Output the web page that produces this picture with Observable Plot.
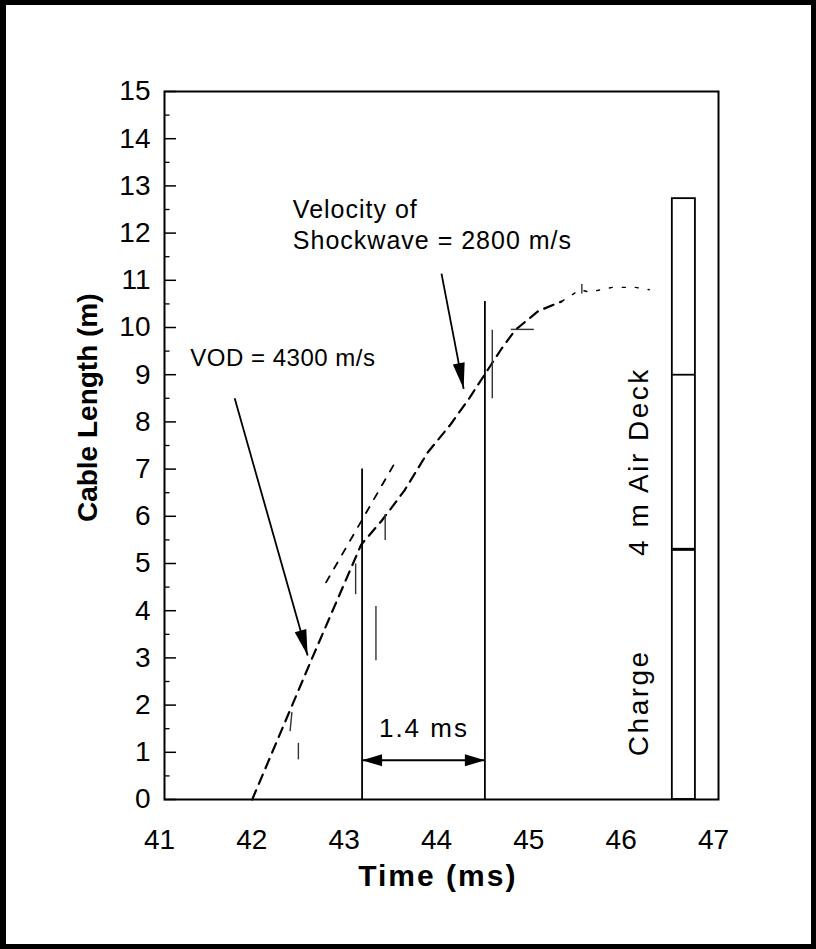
<!DOCTYPE html>
<html><head><meta charset="utf-8">
<script src="https://cdn.jsdelivr.net/npm/d3@7"></script>
<script src="https://cdn.jsdelivr.net/npm/@observablehq/plot@0.6"></script>
<style>
html,body{margin:0;padding:0;background:#fff;}
#wrap{position:relative;width:816px;height:949px;overflow:hidden;background:#fff;}
#border{position:absolute;left:0;top:0;width:816px;height:949px;box-sizing:border-box;border:5px solid #000;border-left-width:6px;pointer-events:none;}
</style></head><body>
<div id="wrap"><div id="chart"></div><div id="border"></div></div>
<script>
// ---- axis ticks ----
const xTicks = [41, 42, 43, 44, 45, 46, 47];
const yTicks = [0, 1, 2, 3, 4, 5, 6, 7, 8, 9, 10, 11, 12, 13, 14, 15];
const yMinor = [0.5, 1.5, 2.5, 3.5, 4.5, 5.5, 6.5, 7.5, 8.5, 9.5, 10.5, 11.5, 12.5, 13.5, 14.5];
const xTitle = "Time (ms)";
const yTitle = "Cable Length (m)";

// ---- main recorded trace (dashed) ----
const traceTime   = [41.95, 42.6, 43.13, 43.35, 43.6, 43.85, 44.1, 44.3, 44.5, 44.65, 44.8, 45.05, 45.3];
const traceLength = [0.0,   3.0,  5.4,   5.9,   6.55, 7.35,  7.95, 8.5,  9.1,  9.55,  9.95, 10.35, 10.55];

// ---- secondary (upper) trace branch ----
const branchTime   = [42.75, 43.0, 43.25, 43.5];
const branchLength = [4.6,   5.45, 6.3,   7.15];

// ---- sparse tail of the trace ----
const tailTime   = [45.3, 45.5, 45.6, 45.85, 46.1, 46.25];
const tailLength = [10.55, 10.8, 10.75, 10.85, 10.85, 10.8];

// ---- short scan marks along the trace ----
const markT1 = [42.36, 42.45, 43.29, 43.07, 43.39, 44.55, 44.75, 45.52];
const markL1 = [1.45,  0.85,  2.95,  4.35,  5.5,   8.5,   9.96,  10.72];
const markT2 = [42.38, 42.45, 43.29, 43.07, 43.39, 44.55, 45.0,  45.52];
const markL2 = [1.85,  1.2,   4.1,   5.0,   6.05,  9.95,  9.96,  10.92];

// ---- event lines (time, top) ----
const eventTime = [43.14, 44.47];
const eventTop  = [7.0, 10.55];

// ---- 1.4 ms span ----
const spanStart = 43.14, spanEnd = 44.47, spanLevel = 0.83;
const spanLabel = "1.4 ms", spanLabelX = 43.81, spanLabelY = 1.5;

// ---- annotation arrows ----
const arrowX1 = [41.76, 44.0];
const arrowY1 = [8.5, 11.14];
const arrowX2 = [42.55, 44.24];
const arrowY2 = [3.05, 8.7];

// ---- annotation texts ----
const noteText = ["VOD = 4300 m/s", "Velocity of", "Shockwave = 2800 m/s"];
const noteX    = [41.28, 42.39, 42.39];
const noteY    = [9.34, 12.48, 11.84];

// ---- blasthole column ----
const boxLeft = 46.5, boxRight = 46.75, boxTop = 12.73;
const boxDividers = [5.3, 9.0];
const colText = ["4 m Air Deck", "Charge"];
const colX = [46.14, 46.14];
const colY = [7.16, 2.05];

// ---------------------------------------------
const W = 816, H = 949, mL = 164, mR = 98, mT = 91, mB = 150;
const xs = Plot.scale({x: {domain: [41, 47], range: [mL, W - mR]}});
const ys = Plot.scale({y: {domain: [0, 15], range: [H - mB, mT]}});

const trace = traceTime.map((t, i) => ({t, l: traceLength[i]}));
const branch = branchTime.map((t, i) => ({t, l: branchLength[i]}));
const tail = tailTime.map((t, i) => ({t, l: tailLength[i]}));
const marks = markT1.map((t, i) => ({t1: t, l1: markL1[i], t2: markT2[i], l2: markL2[i]}));
const events = eventTime.map((t, i) => ({t, top: eventTop[i]}));
const arrows = arrowX1.map((x1, i) => {
  const a = {x1, y1: arrowY1[i], x2: arrowX2[i], y2: arrowY2[i]};
  const dx = xs.apply(a.x2) - xs.apply(a.x1), dy = ys.apply(a.y2) - ys.apply(a.y1);
  a.rot = Math.atan2(dx, -dy) * 180 / Math.PI;
  return a;
});
const spanHeads = [{x: spanStart, rot: -90}, {x: spanEnd, rot: 90}];
const notes = noteText.map((s, i) => ({s, x: noteX[i], y: noteY[i], fs: i === 0 ? 24 : 25}));
const cols = colText.map((s, i) => ({s, x: colX[i], y: colY[i]}));

const font = "'Liberation Sans', Arial, Helvetica, sans-serif";

const chart = Plot.plot({
  width: W, height: H,
  marginLeft: mL, marginRight: mR, marginTop: mT, marginBottom: mB,
  x: {domain: [41, 47]},
  y: {domain: [0, 15]},
  style: {fontFamily: font, color: "black", background: "white", overflow: "visible"},
  marks: [
    // minor / major inward ticks on the left axis
    Plot.ruleY(yMinor, {y: d => d, x1: 41, x2: 41.06, stroke: "black", strokeWidth: 1.3}),
    Plot.ruleY(yTicks, {y: d => d, x1: 41, x2: 41.13, stroke: "black", strokeWidth: 1.5}),
    Plot.axisY({ticks: yTicks, tickSize: 0, tickPadding: 14, fontSize: 28, label: null, tickFormat: d => String(d)}),
    Plot.axisX({ticks: xTicks, tickSize: 0, tickPadding: 30, dx: -5, fontSize: 28, label: null, tickFormat: d => String(d)}),
    Plot.text([xTitle], {x: 43.96, frameAnchor: "bottom", dy: 86, text: d => d, fontSize: 30, fontWeight: "bold"}),
    Plot.text([yTitle], {x: 41, y: 8.3, dx: -76, rotate: -90, text: d => d, fontSize: 28, fontWeight: "bold"}),

    // blasthole column
    Plot.rect([0], {x1: boxLeft, x2: boxRight, y1: 0, y2: boxTop, fill: "none", stroke: "black", strokeWidth: 1.8}),
    Plot.ruleY(boxDividers, {y: d => d, x1: boxLeft, x2: boxRight, stroke: "black", strokeWidth: (d) => d < 6 ? 3 : 1.8}),
    Plot.text(cols, {x: "x", y: "y", text: "s", rotate: -90, fontSize: 28}),

    // event lines
    Plot.ruleX(events, {x: "t", y1: 0, y2: "top", stroke: "black", strokeWidth: 1.8}),

    // traces
    Plot.line(trace, {x: "t", y: "l", stroke: "black", strokeWidth: 2.2, strokeDasharray: "10,7"}),
    Plot.line(branch, {x: "t", y: "l", stroke: "black", strokeWidth: 1.8, strokeDasharray: "7,9"}),
    Plot.line(tail, {x: "t", y: "l", stroke: "black", strokeWidth: 1.4, strokeDasharray: "3,10"}),
    Plot.link(marks, {x1: "t1", y1: "l1", x2: "t2", y2: "l2", stroke: "#333", strokeWidth: 1.4}),

    // 1.4 ms span
    Plot.ruleY([spanLevel], {y: d => d, x1: spanStart, x2: spanEnd, stroke: "black", strokeWidth: 2}),
    Plot.vector(spanHeads, {x: "x", y: spanLevel, rotate: "rot", length: 20, anchor: "end", shape: "spike", r: 6, fill: "black", stroke: "none"}),
    Plot.text([spanLabel], {x: spanLabelX, y: spanLabelY, text: d => d, fontSize: 26}),

    // annotation arrows
    Plot.link(arrows, {x1: "x1", y1: "y1", x2: "x2", y2: "y2", stroke: "black", strokeWidth: 1.8}),
    Plot.vector(arrows, {x: "x2", y: "y2", rotate: "rot", length: 26, anchor: "end", shape: "spike", r: 6, fill: "black", stroke: "none"}),
    Plot.text(notes, {x: "x", y: "y", text: "s", textAnchor: "start", fontSize: "fs"}),

    Plot.frame({stroke: "black", strokeWidth: 2})
  ]
});
// typographic tracking to match the wide typewriter-like scan lettering
const tracking = {
  "Time (ms)": 2, "1.4 ms": 2, "Charge": 2.5, "4 m Air Deck": 2.5,
  "Velocity of": 1, "Shockwave = 2800 m/s": 1, "VOD = 4300 m/s": 0.5
};
chart.querySelectorAll("text").forEach(t => {
  const k = t.textContent;
  if (k in tracking) t.setAttribute("letter-spacing", tracking[k]);
});
document.getElementById("chart").appendChild(chart);
</script>
</body></html>
